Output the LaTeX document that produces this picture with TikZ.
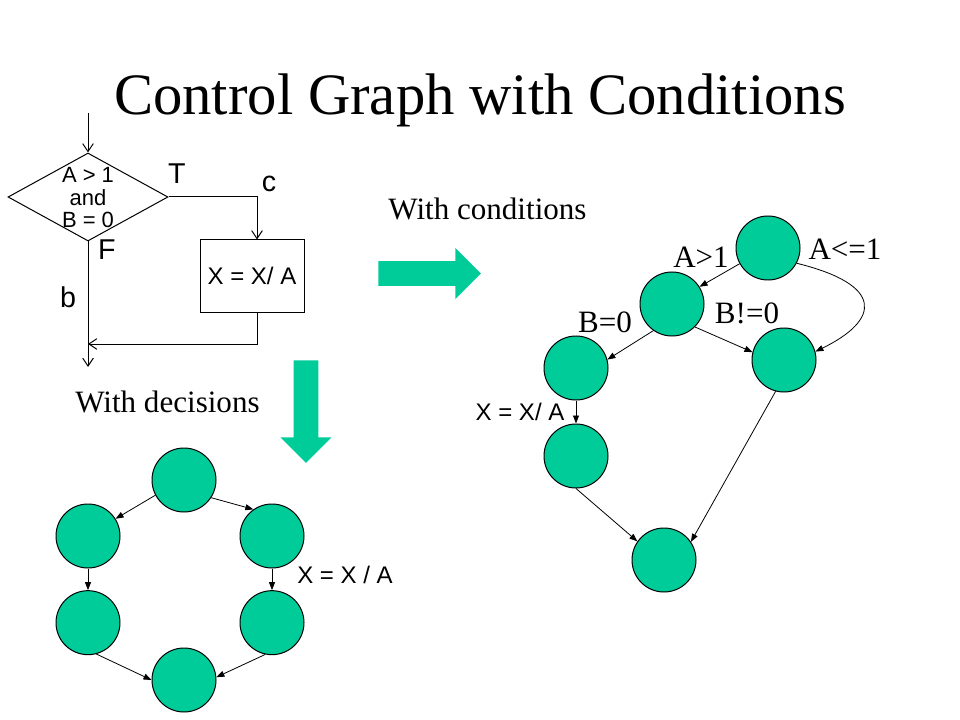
\documentclass[tikz,border=0pt]{standalone}
\usepackage{fontspec}
\setmainfont{Liberation Serif}
\setsansfont{Liberation Sans}
\usepackage{xcolor}
\usepackage{tikz}
\usetikzlibrary{shapes,shapes.arrows,arrows.meta}
\definecolor{slidegreen}{RGB}{0,204,153}
\tikzstyle{state} = [circle, draw=black, fill=slidegreen, line width=0.75pt,
                     minimum size=48pt, inner sep=0pt]
\tikzstyle{line} = [draw, line width=0.6pt, -{Triangle[length=6pt,width=4.5pt]}]
\tikzstyle{flow} = [draw, line width=0.75pt, -{Straight Barb[length=6pt,width=8pt]}]
\tikzstyle{block} = [rectangle, draw, line width=0.75pt, minimum width=78pt,
    minimum height=54pt, inner sep=0pt, font=\sffamily\fontsize{18}{21}\selectfont]
\tikzstyle{decision} = [diamond, draw, line width=0.75pt, minimum width=120pt,
    minimum height=66pt, inner sep=0pt]
\tikzstyle{bigarrow} = [single arrow, fill=slidegreen, draw=none, inner sep=0pt,
    text height=18pt, text depth=0pt, minimum height=77pt,
    single arrow head extend=10pt]
\tikzstyle{cond} = [anchor=base, inner sep=0pt, font=\fontsize{23.3}{28}\selectfont]
\tikzstyle{sans} = [anchor=base, inner sep=0pt, font=\sffamily\fontsize{18}{21}\selectfont]
\tikzstyle{flag} = [anchor=base, inner sep=0pt, font=\sffamily\fontsize{21.5}{25}\selectfont]

\begin{document}
\begin{tikzpicture}[x=0.75pt, y=-0.75pt, node distance=65pt]
  \useasboundingbox (0,0) rectangle (960,720);
  \node[anchor=base, inner sep=0pt, font=\fontsize{44}{50}\selectfont] (title)
    at (480,115) {Control Graph with Conditions};
  % Flow chart
  \coordinate (entry) at (88,113);
  \node[decision] (test) at (88,197) {};
  \node[align=center, inner sep=0pt, font=\sffamily\fontsize{16.5}{16.9}\selectfont]
    (testtext) at (88,198) {A > 1\\and\\B = 0};
  \node[block] (assign) at (252,276) {X = X/ A};
  \coordinate (merge) at (88,344);
  \coordinate (exit) at (88,367);
  \node[flag] (true) at (177,184) {T};
  \node[flag] (false) at (107,260) {F};
  \node[flag] (edgec) at (269,192) {c};
  \node[flag] (edgeb) at (68,307) {b};
  \draw[flow] (entry) -- (test.north);
  \draw[flow] (test.east) -| ([xshift=3.75pt]assign.north);
  \draw[flow] ([xshift=3.75pt]assign.south) |- (merge);
  \draw[flow] (test.south) -- (exit);
  % Big arrows
  \node[bigarrow] (toright) at (423.5,273.5) {};
  \node[bigarrow, rotate=-90] (todown) at (306,405.5) {};
  \node[cond] (withcond) at (487.5,220) {With conditions};
  \node[cond] (withdec) at (167.5,412) {With decisions};
  % Graph with decisions
  \node[state] (d1) at (184,480) {};
  \node[state] (d2) at (88,536) {};
  \node[state] (d3) at (272,536) {};
  \node[state, below of=d2] (d4) {};
  \node[state, below of=d3] (d5) {};
  \node[state] (d6) at (184,680) {};
  \node[sans] (dlabel) at (345,583) {X = X / A};
  \path[line] (d1.208) -- (d2.32);
  \path[line] (d1.-33) -- (d3.125);
  \path[line] (d2) -- (d4);
  \path[line] (d3) -- (d5);
  \path[line] (d4.-75) -- (d6.180);
  \path[line] (d5.-102) -- (d6.5);
  % Graph with conditions
  \node[state] (c1) at (768,248) {};
  \node[state] (c2) at (672,304) {};
  \node[state] (c3) at (576,368) {};
  \node[state] (c4) at (784,360) {};
  \node[state, below of=c3, node distance=66pt] (c5) {};
  \node[state] (c6) at (664,560) {};
  \node[cond] (agt) at (701,268) {A>1};
  \node[cond] (ale) at (845,260) {A<=1};
  \node[cond] (bne) at (747,323) {B!=0};
  \node[cond] (beq) at (605,332) {B=0};
  \node[sans] (clabel) at (520,420) {X = X/ A};
  \path[line] (c1.209) -- (c2.32);
  \path[line] (c1.-28) .. controls (885,285) and (880,320) .. (c4.15);
  \path[line] (c2.235) -- (c3.15);
  \path[line] (c2.-45) -- (c4.166);
  \path[line] (c3) -- (c5);
  \path[line] (c5.-90) -- (c6.145);
  \path[line] (c4.-105) -- (c6.34);
\end{tikzpicture}
\end{document}
